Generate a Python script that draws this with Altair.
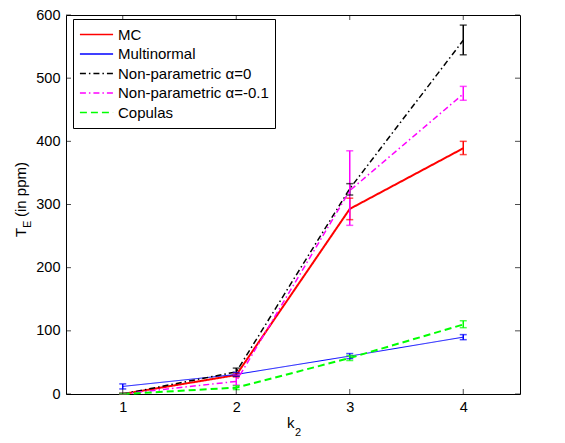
import altair as alt
import pandas as pd

k2 = [1, 2, 3, 4]
series_names = ["MC", "Multinormal", "Non-parametric α=0", "Non-parametric α=-0.1", "Copulas"]

mc_mean = [0, 30, 293, 389]
mc_lo = [0, 27, 276, 379]
mc_hi = [1, 33, 310, 400]

mn_mean = [12, 31, 60, 90]
mn_lo = [8, 28, 56, 86]
mn_hi = [16, 34, 64, 94]

np0_mean = [0, 35, 325, 560]
np0_lo = [0, 29, 315, 537]
np0_hi = [1, 41, 333, 584]

np1_mean = [0, 20, 322, 475]
np1_lo = [0, 14, 267, 465]
np1_hi = [1, 30, 385, 487]

cop_mean = [0, 10, 57, 110]
cop_lo = [0, 7, 53, 105]
cop_hi = [1, 13, 61, 116]

x_ticks = [1, 2, 3, 4]
y_ticks = [0, 100, 200, 300, 400, 500, 600]

colors = ["#ff0000", "#0000ff", "#000000", "#ff00ff", "#00ff00"]
dashes = [[1, 0], [1, 0], [6, 3, 1.5, 3], [6, 3, 1.5, 3], [7, 4]]
widths = [2, 1, 1.5, 1.5, 2]

rows = []
for name, m, lo, hi in zip(series_names,
                           [mc_mean, mn_mean, np0_mean, np1_mean, cop_mean],
                           [mc_lo, mn_lo, np0_lo, np1_lo, cop_lo],
                           [mc_hi, mn_hi, np0_hi, np1_hi, cop_hi]):
    for k, a, b, c in zip(k2, m, lo, hi):
        rows.append({"series": name, "k": k, "v": a, "lo": b, "hi": c})
df = pd.DataFrame(rows)

W, H = 454, 379
FONT = "Liberation Sans"
xs = alt.Scale(domain=[0.5, 4.5], nice=False, zero=False)
ys = alt.Scale(domain=[0, 600], nice=False)

leg = alt.Legend(title=None, orient="none", legendX=7, legendY=4,
                 symbolType="stroke", symbolSize=1100, symbolStrokeWidth=1.5,
                 strokeColor="black", fillColor="white", padding=6,
                 labelFont=FONT, labelFontSize=15, labelColor="black",
                 labelOffset=4, clipHeight=19, rowPadding=0.5, cornerRadius=0)

color = alt.Color("series:N", scale=alt.Scale(domain=series_names, range=colors), legend=leg)
dash = alt.StrokeDash("series:N", scale=alt.Scale(domain=series_names, range=dashes), legend=leg)

x_enc = alt.X("k:Q", scale=xs, axis=alt.Axis(values=x_ticks, title=None, format="d",
                                             grid=False, domain=False, ticks=False,
                                             labelPadding=6, labelFont=FONT, labelFontSize=14.5,
                                             labelColor="black"))
y_enc = alt.Y("v:Q", scale=ys, axis=alt.Axis(values=y_ticks, title=None, grid=False,
                                             domain=False, ticks=False, labelPadding=6,
                                             labelFont=FONT, labelFontSize=14.5, labelColor="black"))

layers = []
for i, name in enumerate(series_names):
    layers.append(
        alt.Chart(df[df["series"] == name]).mark_line(strokeWidth=widths[i]).encode(
            x=x_enc, y=y_enc, color=color, strokeDash=dash, order="k:Q")
    )

base = alt.Chart(df)
err_color = alt.Color("series:N", scale=alt.Scale(domain=series_names, range=colors), legend=None)
bars = base.mark_rule(strokeWidth=1.5).encode(
    x=alt.X("k:Q", scale=xs), y=alt.Y("lo:Q", scale=ys), y2="hi:Q", color=err_color)
cap_lo = base.mark_tick(orient="horizontal", size=7, thickness=1.5).encode(
    x=alt.X("k:Q", scale=xs), y=alt.Y("lo:Q", scale=ys), color=err_color)
cap_hi = base.mark_tick(orient="horizontal", size=7, thickness=1.5).encode(
    x=alt.X("k:Q", scale=xs), y=alt.Y("hi:Q", scale=ys), color=err_color)

xt = pd.DataFrame({"t": x_ticks})
yt = pd.DataFrame({"t": y_ticks})
tick_bot = alt.Chart(xt).mark_tick(orient="vertical", size=5, thickness=1, color="black").encode(
    x=alt.X("t:Q", scale=xs), y=alt.value(H - 2.5))
tick_top = alt.Chart(xt).mark_tick(orient="vertical", size=5, thickness=1, color="black").encode(
    x=alt.X("t:Q", scale=xs), y=alt.value(2.5))
tick_left = alt.Chart(yt).mark_tick(orient="horizontal", size=5, thickness=1, color="black").encode(
    y=alt.Y("t:Q", scale=ys), x=alt.value(2.5))
tick_right = alt.Chart(yt).mark_tick(orient="horizontal", size=5, thickness=1, color="black").encode(
    y=alt.Y("t:Q", scale=ys), x=alt.value(W - 2.5))

one = pd.DataFrame({"s": ["t"]})


def txt(s, x, y, size, angle=0):
    return alt.Chart(one).mark_text(angle=angle, align="left", baseline="alphabetic",
                                    font=FONT, fontSize=size, color="black").encode(
        text=alt.value(s), x=alt.value(x), y=alt.value(y))


# y title: T_E (in ppm), rotated
t_main = txt("T", -40, 222, 15, 270)
t_sub = txt("E", -35, 213, 11, 270)
t_rest = txt("(in ppm)", -40, 202, 15, 270)
# x title: k_2
k_main = txt("k", 221, 413, 15)
k_sub = txt("2", 229, 421, 11)

chart = alt.layer(*layers, bars, cap_lo, cap_hi, tick_bot, tick_top, tick_left, tick_right,
                  t_main, t_sub, t_rest, k_main, k_sub).properties(
    width=W, height=H,
    autosize=alt.AutoSizeParams(type="none"),
    padding={"left": 58, "top": 7, "right": 30, "bottom": 50},
    background="white",
).configure_view(stroke="black", strokeWidth=1)

chart.save("out.html", embed_options={"renderer": "svg", "actions": False})
